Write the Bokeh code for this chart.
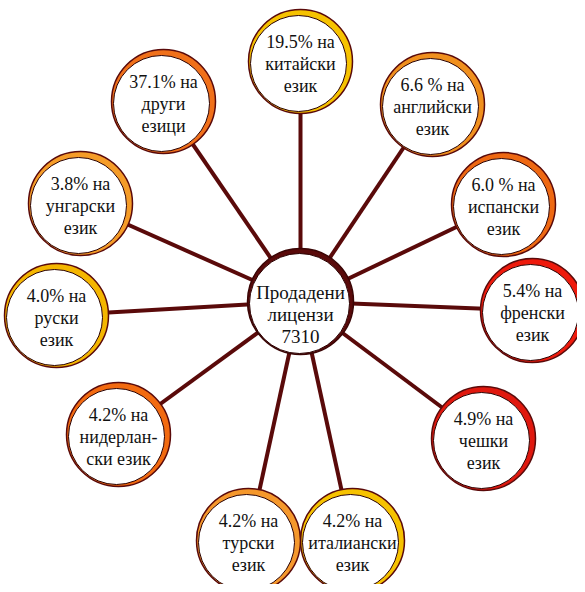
from bokeh.plotting import figure
from bokeh.models import Range1d, ColumnDataSource
from bokeh.embed import file_html
from bokeh.resources import INLINE
from bokeh.core.properties import value

# ---- data ----
total_label = ["Продадени", "лицензи", "7310"]
percents = ["19.5% на", "6.6 % на", "6.0 % на", "5.4% на", "4.9% на", "4.2% на",
            "4.2% на", "4.2% на", "4.0% на", "3.8% на", "37.1% на"]
line2 = ["китайски", "английски", "испански", "френски", "чешки", "италиански",
         "турски", "нидерлан-", "руски", "унгарски", "други"]
line3 = ["език", "език", "език", "език", "език", "език",
         "език", "ски език", "език", "език", "езици"]
rim_colors = ["#F6C200", "#F0901E", "#EE6812", "#EE1A0C", "#E0180E", "#F6C200",
              "#F5982C", "#F26A10", "#F4B600", "#F59C28", "#F0701A"]

# ---- layout (pixel positions of the bubbles) ----
cx, cy, cr = 300, 301, 53
bx = [300, 432, 503, 532, 483, 352, 248, 118, 56, 80, 163]
by = [61, 104, 204, 310, 438, 540, 540, 434, 315, 203, 101]
R = 52

p = figure(width=577, height=584, output_backend="svg", toolbar_location=None,
           x_range=Range1d(0, 577), y_range=Range1d(584, 0),
           min_border=0, outline_line_color=None)
p.axis.visible = False
p.grid.visible = False
p.background_fill_color = "white"

maroon = "#5A0A0A"
p.segment(x0=[cx] * len(bx), y0=[cy] * len(bx), x1=bx, y1=by,
          line_color=maroon, line_width=4)

src = ColumnDataSource(dict(x=bx, y=by, c=rim_colors,
                            ix=[v - 2 for v in bx], iy=[v + 2 for v in by],
                            t1=percents, t2=line2, t3=line3,
                            y1=[v - 20 for v in by], y2=[v + 2 for v in by],
                            y3=[v + 24 for v in by]))
p.circle(x="x", y="y", radius=R, fill_color="c", line_color=maroon,
         line_width=1.5, source=src)
p.circle(x="ix", y="iy", radius=R - 4, fill_color="white", line_color="#2a0000",
         line_width=1, source=src)

# center bubble
p.circle(x=[cx], y=[cy], radius=cr, fill_color=maroon, line_color="#3a0505",
         line_width=1.5)
p.circle(x=[cx - 1], y=[cy + 2], radius=cr - 3, fill_color="white",
         line_color="#2a0000", line_width=1)

font = value("Liberation Serif")
for col, ycol in (("t1", "y1"), ("t2", "y2"), ("t3", "y3")):
    p.text(x="x", y=ycol, text=col, source=src, text_font=font,
           text_font_size="18px", text_align="center", text_baseline="middle",
           text_color="#111111")

p.text(x=[cx] * 3, y=[cy - 9, cy + 13, cy + 35], text=total_label, text_font=font,
       text_font_size="19px", text_align="center", text_baseline="middle",
       text_color="#111111")

open("out.html", "w").write(file_html(p, INLINE))
